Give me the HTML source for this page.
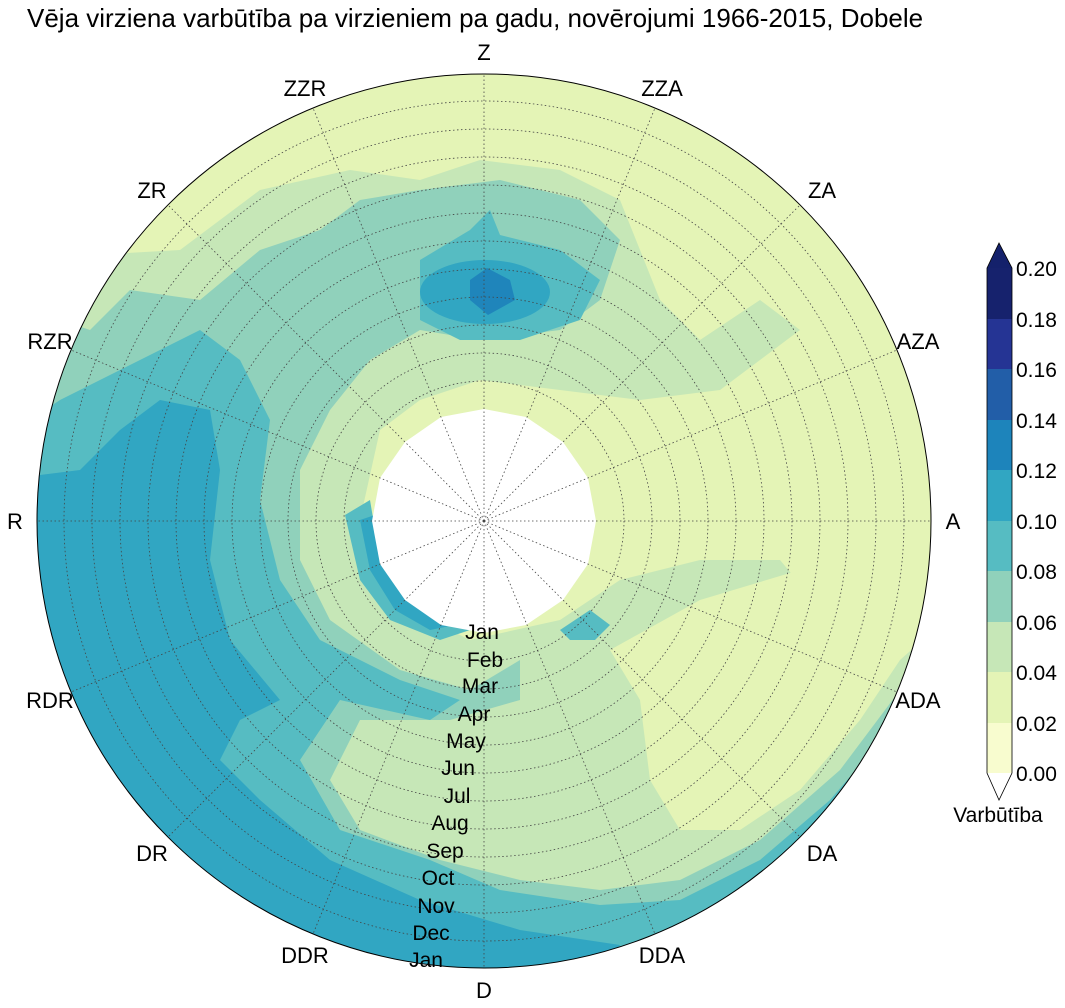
<!DOCTYPE html>
<html><head><meta charset="utf-8"><style>
body{margin:0;background:#fff;}
svg{display:block;font-family:"Liberation Sans",Arial,sans-serif;}
</style></head><body>
<svg width="1065" height="1008" viewBox="0 0 1065 1008" xmlns="http://www.w3.org/2000/svg">
<defs><clipPath id="c"><circle cx="484" cy="521" r="447"/></clipPath></defs>
<text x="27" y="27" font-size="26" fill="#000">Vēja virziena varbūtība pa virzieniem pa gadu, novērojumi 1966-2015, Dobele</text>
<g clip-path="url(#c)">
<rect x="0" y="0" width="1065" height="1008" fill="#e4f4b6"/>
<polygon fill="#c6e7b7" points="0,260 180,250 260,190 350,170 420,180 480,160 560,170 620,200 640,250 660,300 700,340 760,300 800,330 720,390 640,400 560,390 480,380 420,400 380,430 360,520 390,600 470,640 560,620 620,580 700,560 780,560 830,620 880,640 930,590 960,580 960,1008 0,1008"/>
<polygon fill="#e4f4b6" points="610,650 700,600 800,570 880,580 935,560 945,620 900,660 860,720 800,790 740,830 680,830 650,780 640,700"/>
<polygon fill="#90d1bb" points="0,300 90,330 130,290 200,300 260,250 320,230 360,200 420,190 500,180 580,200 620,240 600,300 560,330 480,340 420,330 370,360 330,410 300,470 300,560 330,620 400,670 470,690 520,660 520,700 450,720 360,720 330,780 360,830 440,860 520,880 600,890 680,880 760,840 840,770 900,690 935,615 980,610 980,1008 0,1008"/>
<polygon fill="#56bcc2" points="0,440 60,400 100,380 160,350 200,330 240,360 270,420 260,500 280,580 320,640 400,680 460,700 430,720 340,700 300,760 340,830 430,860 500,890 600,905 680,900 760,860 830,800 890,730 935,660 980,660 980,1008 600,1008 0,1008"/>
<polygon fill="#31a6c2" points="0,480 80,470 120,430 160,400 210,410 220,470 210,560 230,640 280,700 240,720 220,760 260,800 330,860 420,900 520,930 620,945 600,975 0,1008"/>
<polygon fill="#56bcc2" points="345,515 370,500 380,560 420,605 470,630 440,640 390,620 360,580"/>
<polygon fill="#31a6c2" points="360,520 375,515 385,565 420,600 455,625 430,630 395,610 370,570"/>
<polygon fill="#56bcc2" points="560,630 590,610 610,625 595,640 570,640"/>
<polygon fill="#56bcc2" points="420,260 470,230 490,210 500,235 560,250 600,280 580,320 520,340 460,340 420,320"/>
<ellipse cx="485" cy="292" rx="65" ry="32" fill="#31a6c2"/>
<polygon fill="#1f85bb" points="470,280 487,268 510,280 515,300 488,315 470,300"/>
</g>
<polygon fill="#fff" points="596,521 588,478 563,442 526,417 484,409 441,417 405,442 380,478 372,521 380,564 405,600 441,625 484,633 526,625 563,600 588,564"/>
<g fill="none" stroke="#444" stroke-width="0.8" stroke-dasharray="1.5,2.5">
<circle cx="484" cy="521" r="140"/><circle cx="484" cy="521" r="168"/><circle cx="484" cy="521" r="196"/><circle cx="484" cy="521" r="224"/><circle cx="484" cy="521" r="252"/><circle cx="484" cy="521" r="280"/><circle cx="484" cy="521" r="308"/><circle cx="484" cy="521" r="336"/><circle cx="484" cy="521" r="364"/><circle cx="484" cy="521" r="392"/><circle cx="484" cy="521" r="420"/>
<path d="M484,521L484,74M484,521L655,108M484,521L800,205M484,521L897,350M484,521L931,521M484,521L897,692M484,521L800,837M484,521L655,934M484,521L484,968M484,521L313,934M484,521L168,837M484,521L71,692M484,521L37,521M484,521L71,350M484,521L168,205M484,521L313,108"/>
</g>
<circle cx="484" cy="521" r="447" fill="none" stroke="#000" stroke-width="1"/>
<g font-size="22" text-anchor="middle" fill="#000">
<text x="484" y="60">Z</text><text x="662" y="96">ZZA</text><text x="822" y="198">ZA</text><text x="918" y="349">AZA</text><text x="953" y="529">A</text><text x="918" y="708">ADA</text><text x="822" y="861">DA</text><text x="662" y="963">DDA</text><text x="484" y="998">D</text><text x="305" y="963">DDR</text><text x="152" y="861">DR</text><text x="50" y="708">RDR</text><text x="15" y="529">R</text><text x="50" y="349">RZR</text><text x="152" y="198">ZR</text><text x="305" y="96">ZZR</text>
</g>
<g font-size="21" text-anchor="middle" fill="#000">
<text x="482" y="639">Jan</text><text x="485" y="667">Feb</text><text x="480" y="693">Mar</text><text x="474" y="721">Apr</text><text x="466" y="748">May</text><text x="458" y="775">Jun</text><text x="457" y="803">Jul</text><text x="450" y="830">Aug</text><text x="445" y="858">Sep</text><text x="438" y="885">Oct</text><text x="436" y="913">Nov</text><text x="431" y="940">Dec</text><text x="426" y="967">Jan</text>
</g>
<g stroke="none">
<polygon points="987,268 999,243 1012,268" fill="#14216b"/>
<rect x="987" y="268" width="25" height="51" fill="#16226d"/>
<rect x="987" y="319" width="25" height="51" fill="#253494"/>
<rect x="987" y="369" width="25" height="51" fill="#225ea8"/>
<rect x="987" y="420" width="25" height="51" fill="#1d84bb"/>
<rect x="987" y="470" width="25" height="51" fill="#31a6c2"/>
<rect x="987" y="521" width="25" height="51" fill="#56bcc2"/>
<rect x="987" y="571" width="25" height="51" fill="#90d1bb"/>
<rect x="987" y="622" width="25" height="51" fill="#c6e7b7"/>
<rect x="987" y="672" width="25" height="51" fill="#e4f4b6"/>
<rect x="987" y="723" width="25" height="50" fill="#f8fccf"/>
<polygon points="987,773 999,800 1012,773" fill="#fff"/>
</g>
<path d="M987,268L999,243L1012,268L1012,773L999,800L987,773Z" fill="none" stroke="#000" stroke-width="0.8"/>
<g font-size="21" fill="#000">
<text x="1016" y="276">0.20</text><text x="1016" y="327">0.18</text><text x="1016" y="377">0.16</text><text x="1016" y="428">0.14</text><text x="1016" y="478">0.12</text><text x="1016" y="529">0.10</text><text x="1016" y="579">0.08</text><text x="1016" y="630">0.06</text><text x="1016" y="680">0.04</text><text x="1016" y="731">0.02</text><text x="1016" y="781">0.00</text>
<text x="998" y="822" text-anchor="middle">Varbūtība</text>
</g>
</svg>
</body></html>
